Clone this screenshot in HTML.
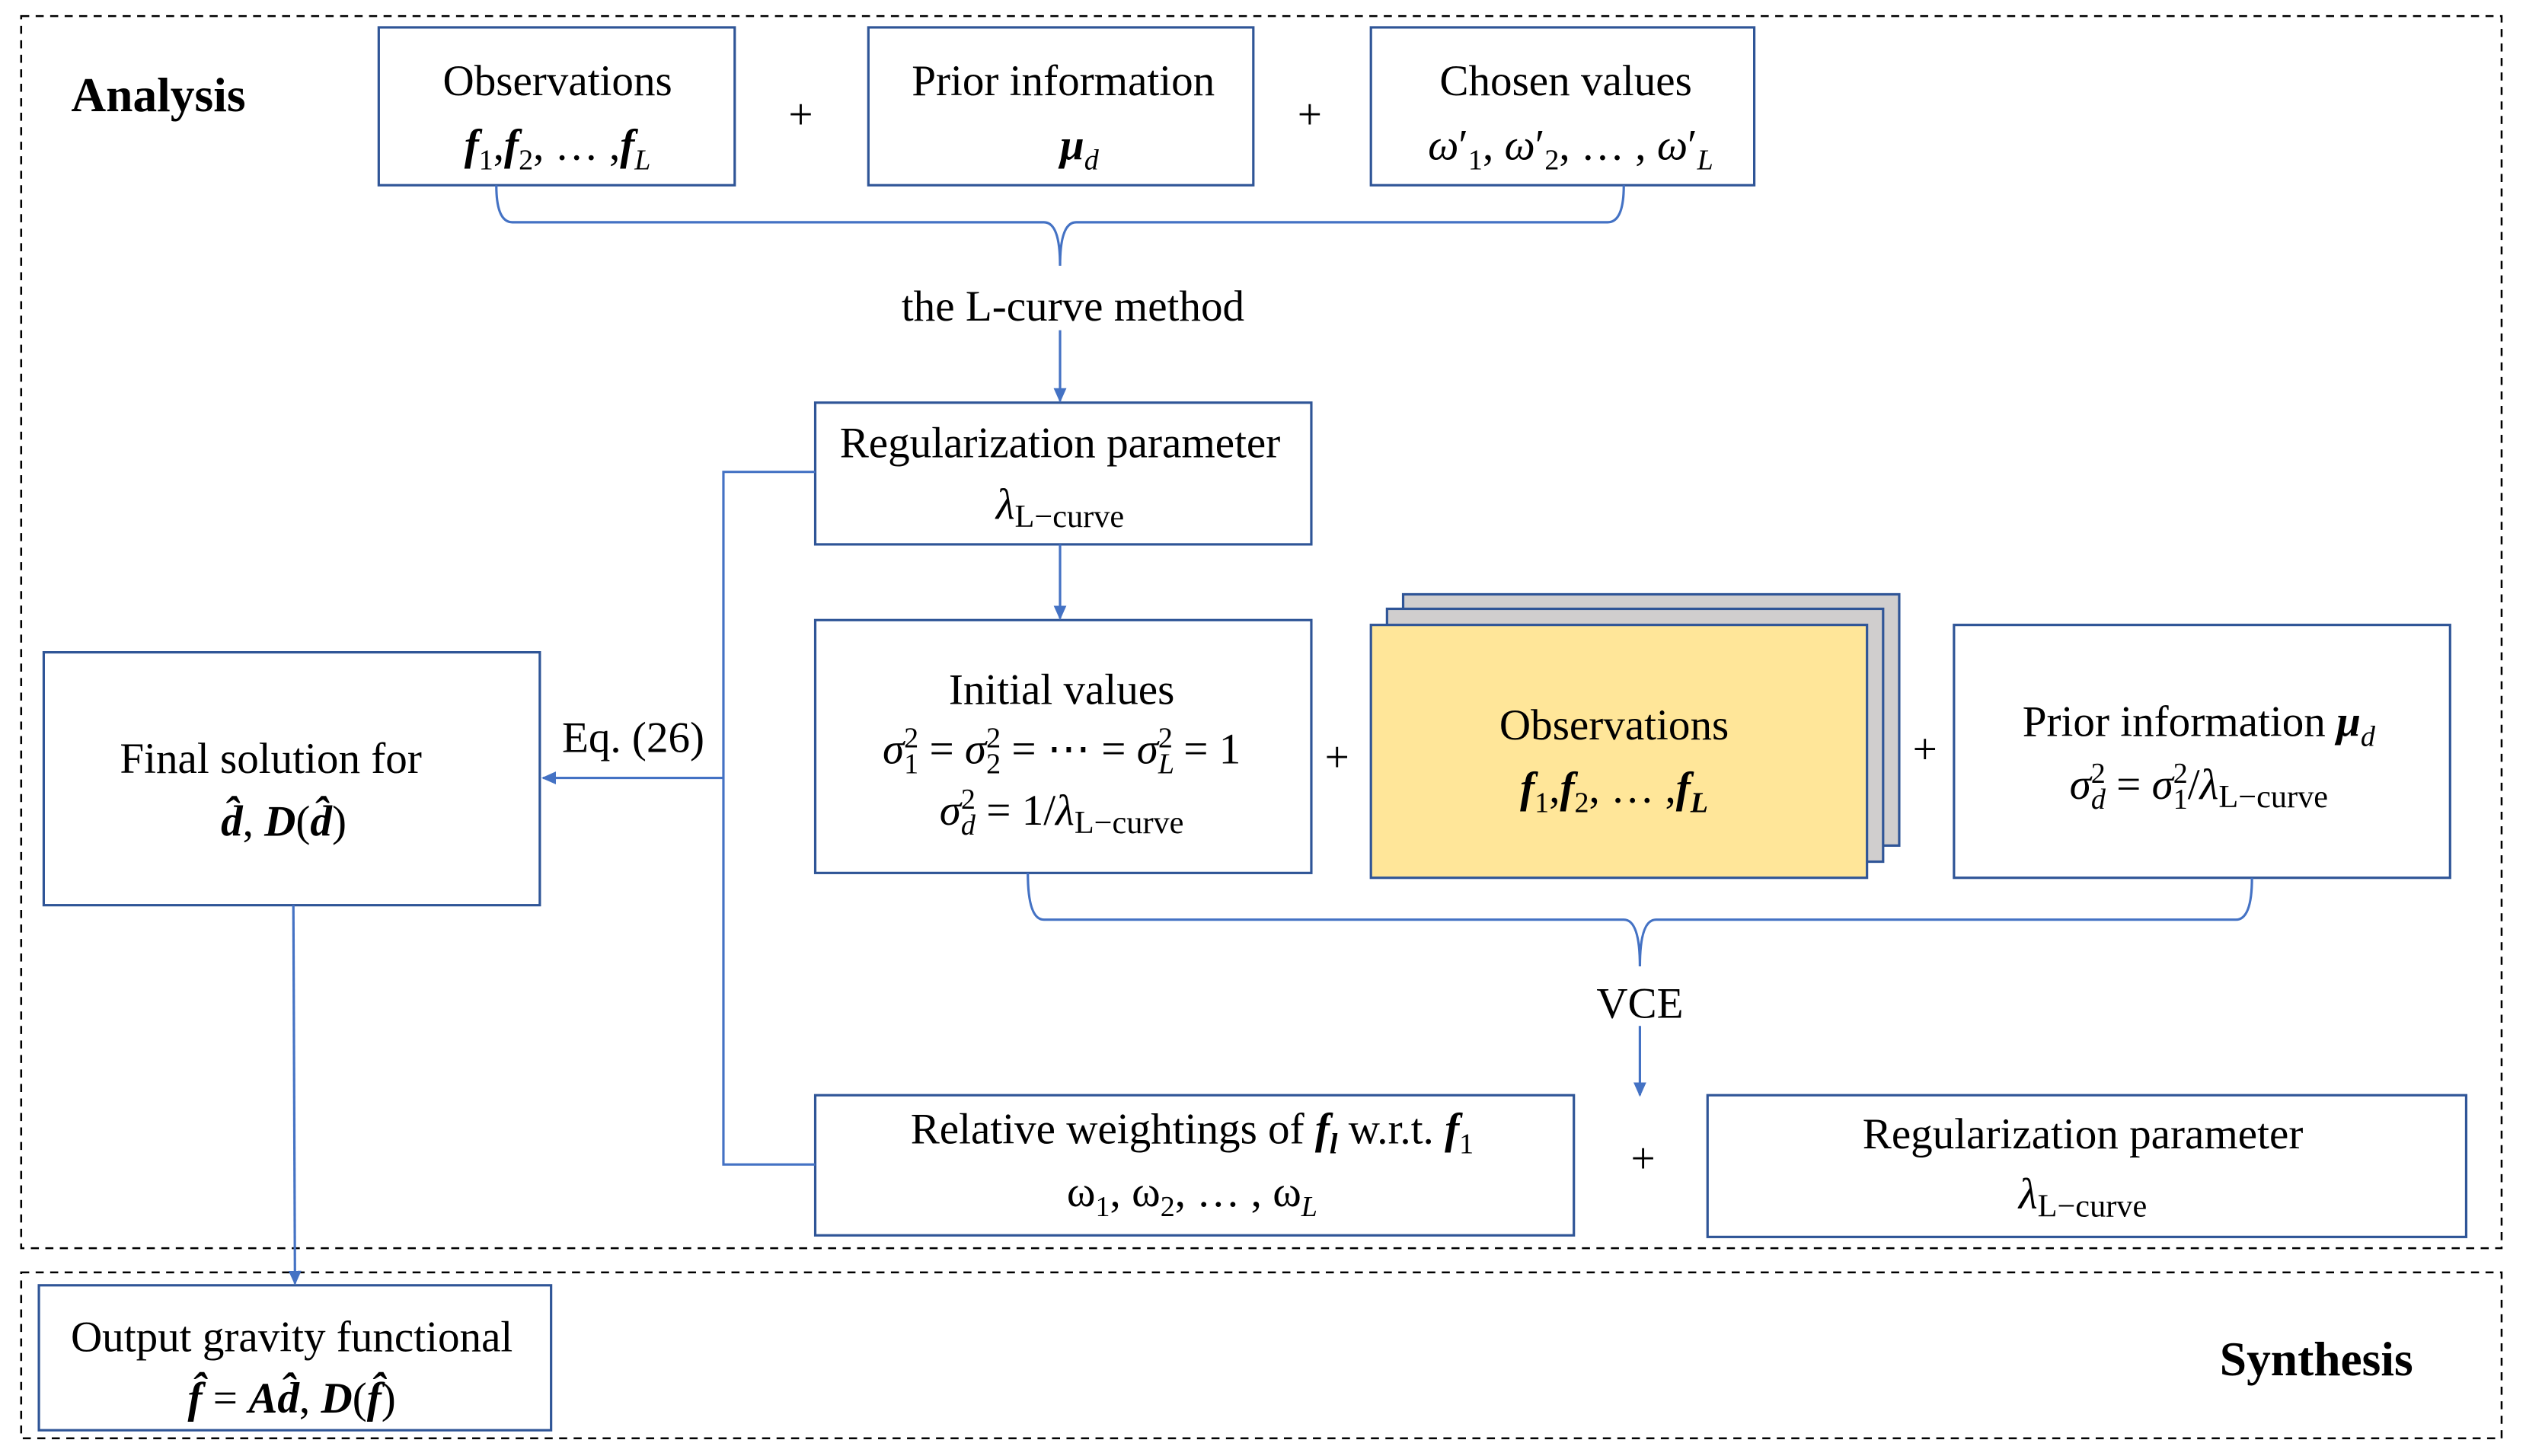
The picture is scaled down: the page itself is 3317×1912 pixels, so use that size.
<!DOCTYPE html>
<html><head><meta charset="utf-8"><style>
html,body{margin:0;padding:0;background:#fff}
svg{display:block}
text{font-family:"Liberation Serif",serif;fill:#000}
.t{font-size:27px;text-anchor:middle}
.m{font-style:italic}
.b{font-weight:bold}
.s{font-size:18px;baseline-shift:-6px}
.p{font-size:18px;baseline-shift:10px}
.l{font-size:20px;baseline-shift:-5px}
</style></head><body>
<svg width="3317" height="1912" viewBox="0 0 1568 904" xmlns="http://www.w3.org/2000/svg">
<defs><marker id="a" markerWidth="10" markerHeight="10" refX="8" refY="5" orient="auto" markerUnits="userSpaceOnUse"><path d="M0,1 L9,5 L0,9 Z" fill="#4472C4"/></marker></defs>
<rect x="13" y="10" width="1540" height="765" fill="none" stroke="#000" stroke-width="1.2" stroke-dasharray="5,4"/>
<rect x="13" y="790" width="1540" height="103" fill="none" stroke="#000" stroke-width="1.2" stroke-dasharray="5,4"/>
<text x="44" y="69" font-size="30" class="b">Analysis</text>
<text x="1498" y="854" font-size="30" class="b" text-anchor="end">Synthesis</text>
<g fill="none" stroke="#2F5597" stroke-width="1.5">
<rect x="235" y="17" width="221" height="98"/>
<rect x="539" y="17" width="239" height="98"/>
<rect x="851" y="17" width="238" height="98"/>
<rect x="506" y="250" width="308" height="88"/>
<rect x="506" y="385" width="308" height="157"/>
<rect x="871" y="369" width="308" height="156" fill="#D0CECE"/>
<rect x="861" y="378" width="308" height="157" fill="#D0CECE"/>
<rect x="851" y="388" width="308" height="157" fill="#FFE699"/>
<rect x="1213" y="388" width="308" height="157"/>
<rect x="506" y="680" width="471" height="87"/>
<rect x="1060" y="680" width="471" height="88"/>
<rect x="27" y="405" width="308" height="157"/>
<rect x="24" y="798" width="318" height="90"/>
</g>
<g fill="none" stroke="#4472C4" stroke-width="1.5">
<path d="M308,115 Q308,138 318,138 L648,138 Q658,138 658,165 Q658,138 668,138 L998,138 Q1008,138 1008,115"/>
<path d="M638,542 Q638,571 648,571 L1008,571 Q1018,571 1018,600 Q1018,571 1028,571 L1388,571 Q1398,571 1398,545"/>
<line x1="658" y1="205" x2="658" y2="249" marker-end="url(#a)"/>
<line x1="658" y1="338" x2="658" y2="384" marker-end="url(#a)"/>
<line x1="1018" y1="637" x2="1018" y2="680" marker-end="url(#a)"/>
<path d="M506,293 L449,293 L449,723 L506,723"/>
<line x1="449" y1="483" x2="337" y2="483" marker-end="url(#a)"/>
<line x1="182" y1="562" x2="183" y2="797" marker-end="url(#a)"/>
</g>
<text class="t" x="346" y="59">Observations</text>
<text class="t" x="346" y="99"><tspan class="b m">f</tspan><tspan class="s">1</tspan>,<tspan class="b m">f</tspan><tspan class="s">2</tspan>, … ,<tspan class="b m">f</tspan><tspan class="m s">L</tspan></text>
<text class="t" x="497" y="80">+</text>
<text class="t" x="660" y="59">Prior information</text>
<text class="t" x="670" y="99"><tspan class="b m">μ</tspan><tspan class="m s">d</tspan></text>
<text class="t" x="813" y="80">+</text>
<text class="t" x="972" y="59">Chosen values</text>
<text class="t" x="975" y="99"><tspan class="m">ω</tspan>′<tspan class="s">1</tspan>, <tspan class="m">ω</tspan>′<tspan class="s">2</tspan>, … , <tspan class="m">ω</tspan>′<tspan class="s m">L</tspan></text>
<text class="t" x="666" y="199">the L-curve method</text>
<text class="t" x="658" y="284">Regularization parameter</text>
<text class="t" x="658" y="322"><tspan class="m">λ</tspan><tspan class="l">L−curve</tspan></text>
<text class="t" x="659" y="437">Initial values</text>
<text class="t" x="659" y="474"><tspan class="m">σ</tspan><tspan class="s">1</tspan><tspan class="p" dx="-9">2</tspan> = <tspan class="m">σ</tspan><tspan class="s">2</tspan><tspan class="p" dx="-9">2</tspan> = ⋯ = <tspan class="m">σ</tspan><tspan class="s m">L</tspan><tspan class="p" dx="-10">2</tspan> = 1</text>
<text class="t" x="659" y="512"><tspan class="m">σ</tspan><tspan class="s m">d</tspan><tspan class="p" dx="-9">2</tspan> = 1/<tspan class="m">λ</tspan><tspan class="l">L−curve</tspan></text>
<text class="t" x="830" y="479">+</text>
<text class="t" x="1002" y="459">Observations</text>
<text class="t" x="1002" y="498"><tspan class="b m">f</tspan><tspan class="s">1</tspan>,<tspan class="b m">f</tspan><tspan class="s">2</tspan>, … ,<tspan class="b m">f</tspan><tspan class="m b s">L</tspan></text>
<text class="t" x="1195" y="474">+</text>
<text class="t" x="1365" y="457">Prior information <tspan class="b m">μ</tspan><tspan class="m s">d</tspan></text>
<text class="t" x="1365" y="496"><tspan class="m">σ</tspan><tspan class="s m">d</tspan><tspan class="p" dx="-9">2</tspan> = <tspan class="m">σ</tspan><tspan class="s">1</tspan><tspan class="p" dx="-9">2</tspan>/<tspan class="m">λ</tspan><tspan class="l">L−curve</tspan></text>
<text class="t" x="1018" y="632">VCE</text>
<text class="t" x="740" y="710">Relative weightings of <tspan class="b m">f</tspan><tspan class="m b s">l</tspan> w.r.t. <tspan class="b m">f</tspan><tspan class="s">1</tspan></text>
<text class="t" x="740" y="749">ω<tspan class="s">1</tspan>, ω<tspan class="s">2</tspan>, … , ω<tspan class="m s">L</tspan></text>
<text class="t" x="1020" y="728">+</text>
<text class="t" x="1293" y="713">Regularization parameter</text>
<text class="t" x="1293" y="750"><tspan class="m">λ</tspan><tspan class="l">L−curve</tspan></text>
<text class="t" x="393" y="467">Eq. (26)</text>
<text class="t" x="168" y="480">Final solution for</text>
<text class="t" x="176" y="519"><tspan class="b m">d̂</tspan>,  <tspan class="b m">D</tspan>(<tspan class="b m">d̂</tspan>)</text>
<text class="t" x="181" y="839">Output gravity functional</text>
<text class="t" x="181" y="877"><tspan class="b m">f̂</tspan> = <tspan class="b m">Ad̂</tspan>,  <tspan class="b m">D</tspan>(<tspan class="b m">f̂</tspan>)</text>
</svg>
</body></html>
